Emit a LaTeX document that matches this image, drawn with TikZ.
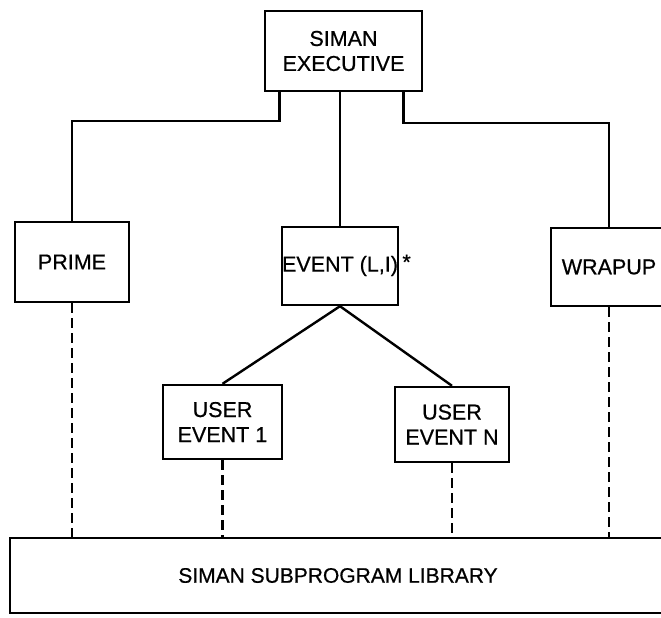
\documentclass[tikz,border=0pt]{standalone}
\usepackage{fontspec}
\setmainfont{Liberation Sans}
\newfontfamily\diagfont[FakeBold=0.6]{Liberation Sans}
\usetikzlibrary{positioning,calc}
\tikzset{
  block/.style={rectangle, draw, line width=2.4pt, align=center, inner sep=0pt, font=\diagfont\fontsize{21.5}{25}\selectfont},
  libbar/.style={rectangle, draw, line width=2.4pt, align=center, inner sep=0pt, font=\diagfont\fontsize{21}{25}\selectfont},
  link/.style={line width=2.4pt},
  dashlink/.style={line width=2.2pt, dash pattern=on 10pt off 5pt}
}
\begin{document}
\begin{tikzpicture}[x=1pt, y=-1pt]
\useasboundingbox (0,0) rectangle (661,618);
\node[block, minimum width=157pt, minimum height=80pt] (exec) at (343.5,51) {SIMAN\\EXECUTIVE};
\node[block, minimum width=114pt, minimum height=80pt] (prime) at (72,262) {PRIME};
\node[block, minimum width=116pt, minimum height=78pt, label={[anchor=west, inner sep=3pt, yshift=4pt, font=\diagfont\fontsize{21.5}{25}\selectfont]east:*}] (event) at (340,266) {EVENT (L,I)};
\node[block, minimum width=116pt, minimum height=78pt] (wrapup) at (609,267) {WRAPUP};
\node[block, minimum width=119pt, minimum height=74pt] (ueone) at (222.5,422) {USER\\EVENT 1};
\node[block, minimum width=114pt, minimum height=75pt] (uen) at (452,424.5) {USER\\EVENT N};
\node[libbar, minimum width=656pt, minimum height=75pt] (lib) at (338,575.5) {SIMAN SUBPROGRAM LIBRARY};
\draw[link] ([xshift=-64pt]exec.south) -- ++(0,29) -| (prime.north);
\draw[link] (event.north |- exec.south) -- (event.north);
\draw[link] ([xshift=60pt]exec.south) -- ++(0,31) -| (wrapup.north);
\draw[link] (event.south) -- (ueone.north);
\draw[link] (event.south) -- (uen.north);
\foreach \n in {prime,ueone,uen,wrapup} {\draw[dashlink] (\n.south) -- (\n.south |- lib.north);}
\end{tikzpicture}
\end{document}
